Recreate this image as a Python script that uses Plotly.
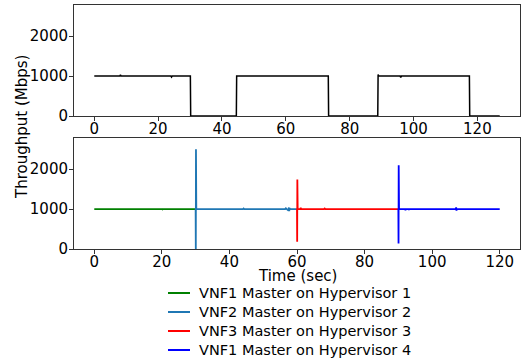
import plotly.graph_objects as go

# Top panel: aggregate throughput (black)
top_t = [0, 8.0, 8.2, 8.4, 24.0, 24.2, 24.4, 30.1, 30.2, 44.5, 44.6, 44.8, 73.3, 73.4,
         88.8, 88.9, 89.1, 95.8, 96.0, 96.2, 117.5, 117.6, 127.0]
top_v = [1000, 1000, 1030, 1000, 1000, 975, 1000, 1000, 0, 0, 1000, 1000, 1000, 0,
         0, 1040, 1000, 1000, 965, 1000, 1000, 0, 0]

# Bottom panel series
vnf1_h1_t = [0, 2.5, 2.7, 2.9, 20.0, 20.2, 20.4, 30.0]
vnf1_h1_v = [1000, 1000, 1012, 1000, 1000, 990, 1000, 1000]

vnf2_h2_t = [30.0, 30.05, 30.1, 30.2, 44.0, 44.2, 44.4, 52.0, 52.2, 52.4, 56.5, 56.7,
             57.5, 57.6, 57.7, 57.8, 57.9, 60.0]
vnf2_h2_v = [1000, 0, 2500, 1000, 1000, 1015, 1000, 1000, 985, 1000, 1000, 1020,
             960, 1040, 950, 1030, 1000, 1000]

vnf3_h3_t = [60.0, 60.05, 60.1, 60.2, 61.0, 61.1, 61.2, 68.0, 68.2, 68.4, 80.0, 80.2, 80.4, 90.0]
vnf3_h3_v = [1000, 180, 1740, 1000, 1000, 1035, 1000, 1000, 1015, 1000, 1000, 985, 1000, 1000]

vnf1_h4_t = [90.0, 90.05, 90.1, 90.2, 92.0, 92.1, 92.2, 93.0, 93.1, 93.2, 107.0, 107.1,
             107.2, 107.3, 120.0]
vnf1_h4_v = [1000, 135, 2100, 1000, 1000, 970, 1000, 1000, 975, 1000, 1000, 1040,
             960, 1000, 1000]

names = ["VNF1 Master on Hypervisor 1", "VNF2 Master on Hypervisor 2",
         "VNF3 Master on Hypervisor 3", "VNF1 Master on Hypervisor 4"]
colors = ["#008000", "#1f77b4", "#ff0000", "#0000ff"]
series = [(vnf1_h1_t, vnf1_h1_v), (vnf2_h2_t, vnf2_h2_v),
          (vnf3_h3_t, vnf3_h3_v), (vnf1_h4_t, vnf1_h4_v)]

fig = go.Figure()
fig.add_trace(go.Scatter(x=top_t, y=top_v, mode="lines", line=dict(color="black", width=1.5),
                         showlegend=False, xaxis="x", yaxis="y"))
for (t, v), n, c in zip(series, names, colors):
    fig.add_trace(go.Scatter(x=t, y=v, mode="lines", name=n, line=dict(color=c, width=1.8),
                             xaxis="x2", yaxis="y2", showlegend=False))

font = dict(family="DejaVu Sans", size=15, color="black")
axcommon = dict(showgrid=False, zeroline=False, showline=True, mirror=True,
                linecolor="#333", linewidth=1, ticks="outside", ticklen=4,
                tickcolor="#333", tickfont=font)
xcommon = dict(ticklabelstandoff=-5, **axcommon)
ycommon = dict(ticklabelstandoff=-2, **axcommon)

# Legend drawn below the axes (paper coordinates; plot area is 446 x 244 px)
PW, PH, L, B = 446.0, 244.0, 74.0, 249.0
def px_x(x):
    return (x - L) / PW
def px_y(y):
    return (B - y) / PH

shapes = []
annotations = [
    dict(text="Throughput (Mbps)", xref="paper", yref="paper", x=px_x(22), y=px_y(127),
         xanchor="center", yanchor="middle", textangle=-90, showarrow=False, font=font),
    dict(text="Time (sec)", xref="paper", yref="paper", x=0.5, y=px_y(276),
         xanchor="center", yanchor="middle", showarrow=False, font=font),
]
row_y = [293, 312, 331, 350]
for n, c, ry in zip(names, colors, row_y):
    shapes.append(dict(type="line", xref="paper", yref="paper",
                       x0=px_x(168), x1=px_x(190), y0=px_y(ry), y1=px_y(ry),
                       line=dict(color=c, width=2)))
    annotations.append(dict(text=n, xref="paper", yref="paper", x=px_x(197), y=px_y(ry),
                            xanchor="left", yanchor="middle", showarrow=False,
                            font=dict(family="DejaVu Sans", size=14.5, color="black")))

fig.update_layout(
    width=521, height=363,
    margin=dict(l=74, r=1, t=5, b=114, autoexpand=False),
    plot_bgcolor="white", paper_bgcolor="white",
    font=font,
    showlegend=False,
    xaxis=dict(domain=[0, 1], anchor="y", range=[-6.35, 133.35],
               tickvals=[0, 20, 40, 60, 80, 100, 120], **xcommon),
    yaxis=dict(domain=[0.545, 1], anchor="x", range=[0, 2780],
               tickvals=[0, 1000, 2000], **ycommon),
    xaxis2=dict(domain=[0, 1], anchor="y2", range=[-6, 126],
                tickvals=[0, 20, 40, 60, 80, 100, 120], **xcommon),
    yaxis2=dict(domain=[0, 0.455], anchor="x2", range=[0, 2780],
                tickvals=[0, 1000, 2000], **ycommon),
    shapes=shapes,
    annotations=annotations,
)

fig.write_html("out.html")
